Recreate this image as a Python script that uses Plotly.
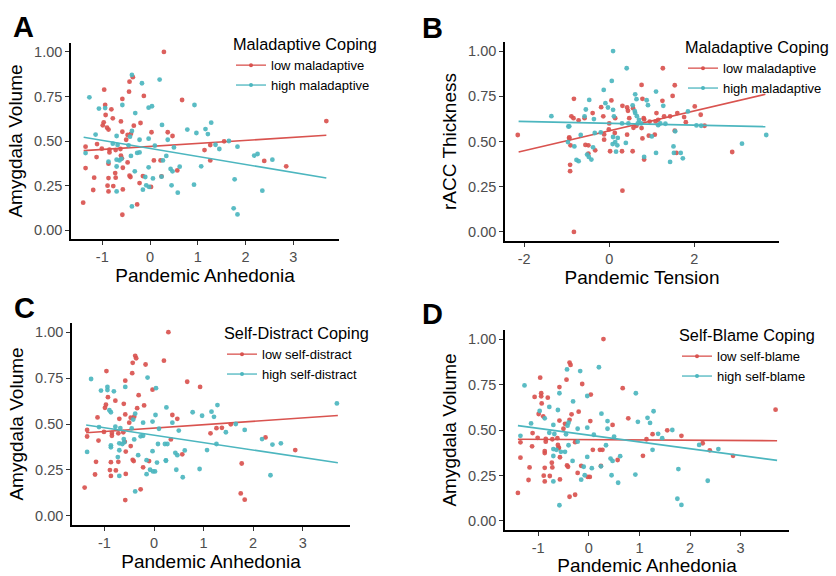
import plotly.graph_objects as go

# ---------------- data: Pandemic Anhedonia vs Amygdala Volume (panels A, C, D) -------------
anh_x = [0.29, -0.43, -0.36, -0.96, -0.44, -0.13, 0.67, -0.58, -0.94, -0.81, -0.93, -0.78, -0.61,
         -0.97, -0.99, -0.90, -0.87, -0.20, -0.34, 0.03, 0.37, 0.47, -0.58, -0.47, -1.35, -1.11,
         -1.01, -0.85, -0.85, -0.72, -0.61, -0.59, -0.47, -1.12, -0.87, 0.08, 0.22, 0.57, -1.35,
         -0.57, -0.73, -0.72, -1.17, -0.87, -0.43, -0.41, -0.15, 0.24, -0.22, -0.89, -0.77, -1.19,
         -0.87, -0.57, 0.02, -1.40, -0.27, -0.58, 1.14, 1.26, 1.26, 1.55, 2.39, 2.85, 3.69, -0.50,
         -0.40, -0.62,
         -0.38, -0.17, 0.20, -1.27, -1.07, -0.94, -0.58, -0.03, 0.04, 0.93, -0.31, 0.25, 0.78,
         0.97, -1.14, -0.70, -0.42, -0.38, -0.22, -0.03, 0.10, 0.37, 0.50, -1.35, -0.78, -0.68,
         -0.40, -0.27, -0.22, -0.87, -0.70, -0.64, -0.70, -0.32, -0.03, 0.34, 0.43, 0.47, 0.62,
         -0.10, -0.08, -0.02, -0.15, -0.70, 0.45, 0.58, 0.92, -0.38, 1.07, 1.16, 1.21, 1.28, 1.37,
         1.45, 1.65, 1.77, 1.75, 1.83, 1.83, 2.18, 2.25, 2.35, 2.56, 0.06, 0.24, 0.27, -0.60,
         -0.45, -0.55]
amyg_y = [1.00, 0.833, 0.858, 0.788, 0.777, 0.753, 0.730, 0.736, 0.702, 0.678, 0.646, 0.627, 0.610,
          0.605, 0.588, 0.575, 0.564, 0.601, 0.586, 0.549, 0.549, 0.528, 0.552, 0.534, 0.468, 0.483,
          0.457, 0.451, 0.436, 0.449, 0.418, 0.403, 0.380, 0.410, 0.373, 0.391, 0.391, 0.335, 0.348,
          0.350, 0.320, 0.294, 0.294, 0.292, 0.305, 0.298, 0.303, 0.302, 0.264, 0.249, 0.247, 0.225,
          0.217, 0.228, 0.242, 0.154, 0.144, 0.086, 0.449, 0.477, 0.391, 0.498, 0.388, 0.358, 0.612,
          0.507, 0.540, 0.455,
          0.871, 0.824, 0.845, 0.745, 0.682, 0.685, 0.702, 0.687, 0.695, 0.702, 0.657, 0.590, 0.564,
          0.545, 0.536, 0.528, 0.524, 0.556, 0.507, 0.513, 0.474, 0.507, 0.464, 0.432, 0.485, 0.478,
          0.416, 0.433, 0.436, 0.384, 0.395, 0.391, 0.357, 0.330, 0.352, 0.416, 0.343, 0.330, 0.356,
          0.298, 0.251, 0.242, 0.227, 0.217, 0.251, 0.210, 0.255, 0.133, 0.358, 0.567, 0.539, 0.603,
          0.479, 0.455, 0.500, 0.285, 0.122, 0.088, 0.468, 0.418, 0.427, 0.221, 0.395, 0.290, 0.300,
          0.391, 0.400, 0.476, 0.380]
# group of each point: L = low, H = high moderator
grp_A = list("LLLLLLLLLLLLLLLLLLLLLLLLLLLLLLLLLLLLLLLLLLLLLLLLLLLLLLLLLLLLLLLLLLLL"
             "HHHHHHHHHHHHHHHHHHHHHHHHHHHHHHHHHHHHHHHHHHHHHHHHHHHHHHHHHHHHHHHHHHHH")
grp_C = list("LLLLLHLLHHLLLLLHHLLHLLLLLHLLLLHLLLHHHLHLHLLLLLHHLLLLLLHLLLLLHLHLHLLLL"
             "LLHHHHLHLLHHHLLHHHHHHHLHHHHHHHHHHHLHHHLHHHHHHHHHHHHLHHLLLHHLHHHHHHHHHH")[:136]
grp_D = list("LHLLLLLLLLLHHHLLHLLLHLLLHLLLLLLLHLLLLLLLLLLLLLLLLLLLLLLLLHLLHLLLLLHL"
             "LHHHLLHHLHHHLHHHHLHHHHHLHHHLHLHHHHHHHHHHHLHHHHHLLHHHHHHHHHLHLHHHHLLHHH")

# ---------------- data: Pandemic Tension vs rACC Thickness (panel B) -------------
ten_x = [-2.15, -0.83, -0.89, -0.84, -0.72, -0.94, -0.91, -0.92, -0.92, -0.83, -0.58, -0.49, -0.49,
         -0.33, -0.39, -0.19, -0.14, -0.12, -0.12, -0.01, 0.02, 0.05, 0.14, 0.30, 0.31, 0.31, 0.42,
         0.44, 0.42, 0.47, 0.55, 0.56, 0.57, 0.76, 0.78, 0.81, 0.82, 0.82, 0.93, 1.07, 1.11, 1.26,
         1.25, 1.49, 1.54, 1.54, 1.60, 1.58, 1.76, 1.80, 2.01, 2.15, 2.24, 2.89, 0.64, 0.76, 1.09,
         1.29, 1.43, 0.78, -0.56, 0.13, -0.94, 0.00, 0.95, 1.15,
         -1.36, -0.96, -0.97, -0.82, -0.77, -0.72, -0.67, -0.55, -0.58, -0.47, -0.52, -0.42, -0.38,
         -0.36, -0.13, -0.09, -0.03, 0.06, 0.09, 0.09, 0.09, 0.08, 0.14, 0.16, 0.19, 0.41, 0.39,
         0.61, 0.64, 0.61, 0.88, 0.91, 0.82, 1.00, 1.10, 1.10, 1.27, 1.32, 1.43, 1.51, 1.52, 1.55,
         1.68, 1.73, 1.85, 2.05, 2.16, 3.12, 3.69, -0.34, -0.48, 0.11, 0.67, 0.70, 0.60, 0.65,
         0.75, 1.15, 1.20, 0.45, 0.30, -0.20, 0.20, 0.55, -0.94]
racc_y = [0.536, 0.736, 0.639, 0.629, 0.617, 0.523, 0.479, 0.371, 0.336, 0.000, 0.629, 0.479, 0.433,
          0.451, 0.657, 0.690, 0.639, 0.539, 0.510, 0.567, 0.446, 0.727, 0.629, 0.446, 0.228, 0.697,
          0.688, 0.670, 0.538, 0.629, 0.446, 0.684, 0.576, 0.813, 0.736, 0.629, 0.400, 0.622, 0.532,
          0.538, 0.657, 0.905, 0.725, 0.752, 0.811, 0.560, 0.657, 0.437, 0.635, 0.607, 0.694, 0.648,
          0.587, 0.442, 0.587, 0.574, 0.611, 0.639, 0.639, 0.517, 0.481, 0.547, 0.517, 0.600, 0.610,
          0.620,
          0.640, 0.583, 0.497, 0.473, 0.398, 0.391, 0.536, 0.677, 0.639, 0.730, 0.428, 0.400, 0.468,
          0.624, 0.785, 0.712, 0.688, 0.835, 1.000, 0.675, 0.525, 0.486, 0.497, 0.444, 0.479, 0.905,
          0.492, 0.761, 0.734, 0.657, 0.728, 0.701, 0.415, 0.528, 0.776, 0.437, 0.697, 0.598, 0.387,
          0.473, 0.437, 0.556, 0.437, 0.407, 0.666, 0.589, 0.587, 0.488, 0.536, 0.547, 0.415, 0.639,
          0.600, 0.620, 0.668, 0.640, 0.600, 0.590, 0.600, 0.600, 0.600, 0.550, 0.520, 0.700, 0.584]
grp_B = ["L"] * 66 + ["H"] * 66

# ---------------- fitted lines -------------
fitA_x, fitA_low, fitA_high = [-1.39, 3.69], [0.446, 0.532], [0.521, 0.292]
fitB_x, fitB_low, fitB_high = [-2.13, 3.67], [0.442, 0.761], [0.611, 0.582]
fitC_x, fitC_low, fitC_high = [-1.37, 3.71], [0.452, 0.546], [0.495, 0.289]
fitD_x, fitD_low, fitD_high = [-1.40, 3.72], [0.449, 0.441], [0.524, 0.333]

# ---------------- text -------------
panel_letters = ["A", "B", "C", "D"]
x_titles = ["Pandemic Anhedonia", "Pandemic Tension", "Pandemic Anhedonia", "Pandemic Anhedonia"]
y_titles = ["Amygdala Volume", "rACC Thickness", "Amygdala Volume", "Amygdala Volume"]
legend_titles = ["Maladaptive Coping", "Maladaptive Coping", "Self-Distract Coping", "Self-Blame Coping"]
legend_labels = [["low maladaptive", "high maladaptive"], ["low maladaptive", "high maladaptive"],
                 ["low self-distract", "high self-distract"], ["low self-blame", "high self-blame"]]
y_ticks = [0.0, 0.25, 0.5, 0.75, 1.0]
y_tick_text = ["0.00", "0.25", "0.50", "0.75", "1.00"]

RED = "#D9534F"
TEAL = "#4CB6BF"
FONT = "Liberation Sans, Arial, sans-serif"
W, H = 836, 576

panels = [
    dict(x=anh_x, y=amyg_y, g=grp_A, fx=fitA_x, fl=fitA_low, fh=fitA_high,
         xr=[-1.655, 3.955], xt=[-1, 0, 1, 2, 3], box=(71, 339, 43, 239),
         leg=(231, 29), letter=(11, 9)),
    dict(x=ten_x, y=racc_y, g=grp_B, fx=fitB_x, fl=fitB_low, fh=fitB_high,
         xr=[-2.45, 3.99], xt=[-2, 0, 2], box=(505, 779, 42, 241),
         leg=(683, 32), letter=(420, 10)),
    dict(x=anh_x, y=amyg_y, g=grp_C, fx=fitC_x, fl=fitC_low, fh=fitC_high,
         xr=[-1.655, 3.955], xt=[-1, 0, 1, 2, 3], box=(72, 350, 323, 525),
         leg=(222, 318), letter=(12, 290)),
    dict(x=anh_x, y=amyg_y, g=grp_D, fx=fitD_x, fl=fitD_low, fh=fitD_high,
         xr=[-1.655, 3.955], xt=[-1, 0, 1, 2, 3], box=(505, 789, 330, 530),
         leg=(677, 320), letter=(420, 296)),
]

fig = go.Figure()
layout = dict(width=W, height=H, margin=dict(l=0, r=0, t=0, b=0),
              paper_bgcolor="white", plot_bgcolor="white",
              font=dict(family=FONT, color="black"), annotations=[])

for i, p in enumerate(panels):
    sfx = "" if i == 0 else str(i + 1)
    xa, ya = "x" + sfx, "y" + sfx
    leg = "legend" + sfx
    for code, col, fy, lab in (("L", RED, p["fl"], legend_labels[i][0]),
                               ("H", TEAL, p["fh"], legend_labels[i][1])):
        xs = [xv for xv, gv in zip(p["x"], p["g"]) if gv == code]
        ys = [yv for yv, gv in zip(p["y"], p["g"]) if gv == code]
        fig.add_trace(go.Scatter(x=xs, y=ys, mode="markers", xaxis=xa, yaxis=ya,
                                 marker=dict(color=col, size=4.8, opacity=0.92),
                                 showlegend=False, hoverinfo="skip"))
        fig.add_trace(go.Scatter(x=p["fx"], y=fy, mode="lines", xaxis=xa, yaxis=ya,
                                 line=dict(color=col, width=1.6), showlegend=False,
                                 hoverinfo="skip"))
        fig.add_trace(go.Scatter(x=[None], y=[None], mode="lines+markers", xaxis=xa, yaxis=ya,
                                 line=dict(color=col, width=1.3), marker=dict(color=col, size=4),
                                 name=lab, legend=leg, showlegend=True))
    l, r, t, b = p["box"]
    axcommon = dict(showline=True, linecolor="black", linewidth=1.6, ticks="outside",
                    ticklen=4, tickwidth=1.2, tickcolor="#333333", showgrid=False,
                    zeroline=False, tickfont=dict(size=14.5, color="#4D4D4D", family=FONT))
    layout["xaxis" + sfx] = dict(axcommon, domain=[l / W, r / W], anchor=ya, range=p["xr"],
                                 tickvals=p["xt"], ticktext=[str(v) for v in p["xt"]],
                                 title=dict(text=x_titles[i], font=dict(size=19), standoff=4))
    layout["yaxis" + sfx] = dict(axcommon, domain=[1 - b / H, 1 - t / H], anchor=xa,
                                 range=[-0.05, 1.05], tickvals=y_ticks, ticktext=y_tick_text,
                                 title=dict(text=y_titles[i], font=dict(size=19), standoff=6))
    lx, ly = p["leg"]
    layout[leg] = dict(x=lx / W, y=1 - ly / H, xanchor="left", yanchor="top",
                       bgcolor="rgba(0,0,0,0)", itemwidth=30, tracegroupgap=0,
                       font=dict(size=13, family=FONT, color="black"),
                       title=dict(text=legend_titles[i], font=dict(size=16.3, family=FONT)))
    ax_, ay_ = p["letter"]
    layout["annotations"].append(dict(text="<b>" + panel_letters[i] + "</b>", xref="paper",
                                      yref="paper", x=ax_ / W, y=1 - ay_ / H, xanchor="left",
                                      yanchor="top", showarrow=False,
                                      font=dict(size=29, family=FONT, color="black")))

fig.update_layout(**layout)
fig.write_html("out.html", config={"displayModeBar": False},
               post_script="document.body.style.margin='0';document.body.style.padding='0';")
